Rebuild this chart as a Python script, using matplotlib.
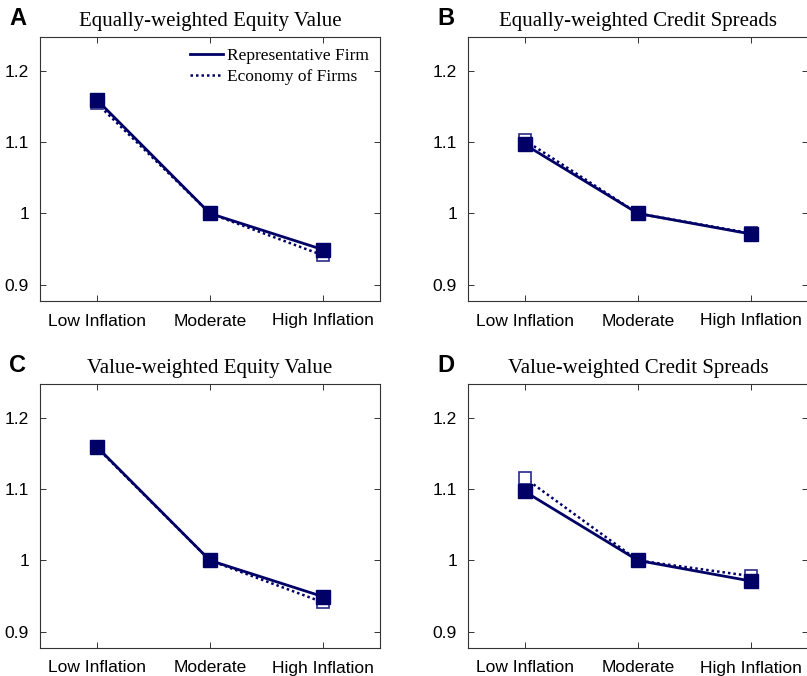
import matplotlib
matplotlib.use("Agg")
import matplotlib.pyplot as plt

categories = ["Low Inflation", "Moderate", "High Inflation"]
titles = ["Equally-weighted Equity Value", "Equally-weighted Credit Spreads",
          "Value-weighted Equity Value", "Value-weighted Credit Spreads"]
letters = ["A", "B", "C", "D"]
rep_A = [1.160, 1.000, 0.949]
eco_A = [1.155, 1.000, 0.941]
rep_B = [1.097, 1.000, 0.971]
eco_B = [1.103, 1.000, 0.972]
rep_C = [1.160, 1.000, 0.949]
eco_C = [1.159, 1.000, 0.941]
rep_D = [1.097, 1.000, 0.971]
eco_D = [1.116, 1.000, 0.978]
rep_all = [rep_A, rep_B, rep_C, rep_D]
eco_all = [eco_A, eco_B, eco_C, eco_D]
yticks = [0.9, 1.0, 1.1, 1.2]
ytick_labels = ["0.9", "1", "1.1", "1.2"]

navy = "#000066"
fig = plt.figure(figsize=(8.07, 6.76), dpi=100)
positions = [
    [40/807, 1-301/676, 340/807, 264/676],
    [468/807, 1-301/676, 340/807, 264/676],
    [40/807, 1-648/676, 340/807, 264/676],
    [468/807, 1-648/676, 340/807, 264/676],
]
x = [1, 2, 3]
for i in range(4):
    ax = fig.add_axes(positions[i])
    ax.plot(x, eco_all[i], linestyle=(0, (1, 1.2)), color=navy, lw=1.8,
            marker="s", markersize=8.5, markerfacecolor="white",
            markeredgecolor="#2a2a8a", markeredgewidth=1.2, label="Economy of Firms", zorder=2)
    ax.plot(x, rep_all[i], linestyle="-", color=navy, lw=2.0,
            marker="s", markersize=9.5, markerfacecolor=navy,
            markeredgecolor=navy, label="Representative Firm", zorder=3)
    ax.set_xlim(0.5, 3.5)
    ax.set_ylim(0.877, 1.248)
    ax.set_xticks(x)
    ax.set_xticklabels(categories, family="Liberation Sans", fontsize=12.5)
    ax.set_yticks(yticks)
    ax.set_yticklabels(ytick_labels, family="Liberation Sans", fontsize=12.5)
    ax.tick_params(direction="in", top=True, right=True, length=4, width=0.7, color="#333333", pad=9)
    ax.tick_params(axis="y", pad=8)
    for s in ax.spines.values():
        s.set_linewidth(0.8)
        s.set_color("#333333")
    ax.set_title(titles[i], family="Liberation Serif", fontsize=15, pad=8)
    ax.text(-0.09, 1.025, letters[i], transform=ax.transAxes, family="Liberation Sans",
            fontweight="bold", fontsize=17, va="bottom", ha="left")
    if i == 0:
        h, l = ax.get_legend_handles_labels()
        leg = ax.legend([h[1], h[0]], [l[1], l[0]], loc="upper right", frameon=False,
                        prop={"family": "Liberation Serif", "size": 12.5},
                        handlelength=1.9, handletextpad=0.25, borderaxespad=0.25,
                        labelspacing=0.25, markerscale=0)
        for lh in leg.legend_handles:
            lh.set_marker("")

fig.savefig("out.png", dpi=100)
